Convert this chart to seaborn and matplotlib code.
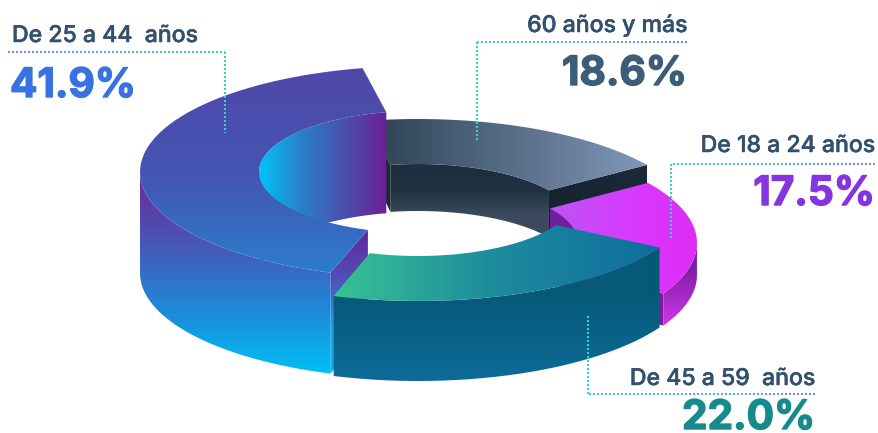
import numpy as np
import matplotlib
matplotlib.use("Agg")
import matplotlib.pyplot as plt
import matplotlib.patheffects as pe
from matplotlib.path import Path
from matplotlib.patches import PathPatch
from matplotlib.collections import LineCollection
from matplotlib.colors import to_rgb
import seaborn as sns

# Data (counter-clockwise from the top of the ring)
age_groups = ["De 25 a 44  años", "De 45 a 59  años", "De 18 a 24 años", "60 años y más"]
shares = [41.9, 22.0, 17.5, 18.6]
value_labels = ["41.9%", "22.0%", "17.5%", "18.6%"]

# Layout of the exploded ring, in pixels
start_angle = 101.5
rx_out, ry_out, rx_in, ry_in = 278, 106, 159, 61
center_x = [418, 418, 419, 418]
center_y = [172, 195, 243, 225]
depths = [101, 80, 32, 47]
end_pad = [0.7, 1.2, 0, 1.5]
draw_order = [3, 0, 2, 1]

top_fill = [
    (["#5048a8", "#4455b4", "#2a7fcc"], "y", 70, 278),
    (["#36c095", "#1d8a9c", "#0f6f9e"], "x", 340, 655),
    (["#bb55f0", "#d63cff", "#e02cf5"], "x", 552, 697),
    (["#33475b", "#5a6f8a", "#8098b8"], "x", 387, 648),
]
wall_fill = [
    (["#6a2a9c", "#4a55b5", "#1e88d8", "#00c0f5"], "y", 175, 375),
    (["#065a78", "#0e6b9a"], "y", 295, 382),
    (["#7a1f9e", "#cf35ee"], "y", 265, 325),
    (["#1d2e3e", "#1d2e3e"], "y", 165, 212),
]
inner_fill = [
    (["#00c4f8", "#2a80c8", "#4a50ac", "#6a2096"], "x", 259, 387),
    None,
    (["#70209c", "#70209c"], "x", 540, 580),
    (["#1d2e3e", "#1f3040", "#3a4a5c"], "y", 166, 214),
]
cap_fill = [
    (["#62289a", "#5050b8", "#1ea0e0", "#00b8f0"], "y", 231, 375),
    None,
    (["#7a1f9e", "#7a1f9e"], "y", 240, 320),
    (["#16242f", "#1b2a38"], "x", 548, 648),
]
end_cap_fill = (["#1a2a38", "#1a2a38"], "y", 150, 215)

label_color = "#33506f"
value_colors = ["#3872e0", "#178a8c", "#8535e0", "#3d5c78"]
label_xy = [(12, 42), (815, 385), (875, 152), (687, 32)]
value_xy = [(10, 97), (815, 429), (875, 205), (687, 85)]
label_ha = ["left", "right", "right", "right"]
leader_paths = [
    [(8, 52), (225, 52), (225, 133)],
    [(815, 394), (588, 394), (588, 314)],
    [(875, 164), (671, 164), (671, 238)],
    [(687, 42), (477, 42), (477, 140)],
]

sns.set_theme(style="white")
plt.rcParams["font.family"] = ["Inter", "DejaVu Sans"]
fig = plt.figure(figsize=(8.79, 4.33), dpi=100, facecolor="white")
ax = fig.add_axes([0, 0, 1, 1])
ax.set_axis_off()
ax.set_xlim(0, 879)
ax.set_ylim(433, 0)


def arc(cx, cy, rx, ry, t0, t1, dy=0, n=140):
    t = np.radians(np.linspace(t0, t1, n))
    return np.column_stack([cx + rx * np.cos(t), cy - ry * np.sin(t) + dy])


def fill(points, spec):
    stops, direction, lo, hi = spec
    cmap = sns.blend_palette(stops, as_cmap=True)
    if direction == "x":
        g = np.clip((np.arange(879) + 0.5 - lo) / (hi - lo), 0, 1)[None, :]
    else:
        g = np.clip((np.arange(433) + 0.5 - lo) / (hi - lo), 0, 1)[:, None]
    im = ax.imshow(g, cmap=cmap, vmin=0, vmax=1, extent=(0, 879, 433, 0),
                   aspect="auto", interpolation="bilinear", zorder=2)
    patch = PathPatch(Path(np.vstack([points, points[:1]])), transform=ax.transData,
                      fc="none", ec="none")
    ax.add_patch(patch)
    im.set_clip_path(patch)
    return im


def overlap(a, b, lo, hi):
    s, e = max(a, lo), min(b, hi)
    return (s, e) if e > s else None


spans = np.array(shares) * 3.6
starts = start_angle + np.concatenate([[0], np.cumsum(spans)[:-1]])

for i in draw_order:
    cx, cy, d = center_x[i], center_y[i], depths[i]
    a0 = starts[i]
    a1 = a0 + spans[i] - end_pad[i]
    # side cuts that face the viewer
    if np.cos(np.radians(a0)) > 0 and cap_fill[i] is not None:
        p_in = arc(cx, cy, rx_in, ry_in, a0, a0, n=1)[0]
        p_out = arc(cx, cy, rx_out, ry_out, a0, a0, n=1)[0]
        fill(np.array([p_in, p_out, p_out + [0, d], p_in + [0, d]]), cap_fill[i])
    if np.cos(np.radians(a1)) < 0:
        p_in = arc(cx, cy, rx_in, ry_in, a1, a1, n=1)[0]
        p_out = arc(cx, cy, rx_out, ry_out, a1, a1, n=1)[0]
        spec = cap_fill[i] if cap_fill[i] is not None and i == 0 else end_cap_fill
        if i != 1:
            fill(np.array([p_in, p_out, p_out + [0, d], p_in + [0, d]]), spec)
    # inner wall: only the far half of the hole is seen
    if inner_fill[i] is not None:
        for lo, hi in [(0, 180), (360, 540)]:
            r = overlap(a0, a1, lo, hi)
            if r:
                top = arc(cx, cy, rx_in, ry_in, r[0], r[1])
                low = arc(cx, cy, rx_in, ry_in, r[1], r[0], dy=d)
                fill(np.vstack([top, low]), inner_fill[i])
    # outer wall: only the near half is seen
    r = overlap(a0, a1, 180, 360)
    if r:
        top = arc(cx, cy, rx_out, ry_out, r[0], r[1])
        low = arc(cx, cy, rx_out, ry_out, r[1], r[0], dy=d)
        fill(np.vstack([top, low]), wall_fill[i])
    # top face
    outer = arc(cx, cy, rx_out, ry_out, a0, a1)
    inner = arc(cx, cy, rx_in, ry_in, a1, a0)
    fill(np.vstack([outer, inner]), top_fill[i])

ax.set_xlim(0, 879)
ax.set_ylim(433, 0)

# Dotted leaders fading from blue at the label end to teal at the elbow
blue, teal = np.array(to_rgb("#6f8cec")), np.array(to_rgb("#35d0d0"))
for path in leader_paths:
    path = np.array(path, dtype=float)
    seg_len = np.hypot(*np.diff(path, axis=0).T)
    segs, cols = [], []
    for k, length in enumerate(seg_len):
        direction = (path[k + 1] - path[k]) / length
        for s in np.arange(0, length, 4.0):
            a = path[k] + direction * s
            b = path[k] + direction * min(s + 2.0, length)
            segs.append([a, b])
            mix = min(s / length, 1) if k == 0 else 1
            cols.append(blue * (1 - mix) + teal * mix)
    ax.add_collection(LineCollection(segs, colors=cols, linewidths=1.5, zorder=5,
                                     capstyle="butt"))

for i, name in enumerate(age_groups):
    t = ax.text(*label_xy[i], name, color=label_color, fontsize=16.6, fontweight="medium",
                ha=label_ha[i], va="baseline", zorder=6)
    t.set_path_effects([pe.withStroke(linewidth=0.35, foreground=label_color)])
    v = ax.text(*value_xy[i], value_labels[i], color=value_colors[i], fontsize=29.2,
                fontweight="bold", ha=label_ha[i], va="baseline", zorder=6)
    v.set_path_effects([pe.withStroke(linewidth=1.0, foreground=value_colors[i])])

fig.savefig("out.png", dpi=100, facecolor="white")
